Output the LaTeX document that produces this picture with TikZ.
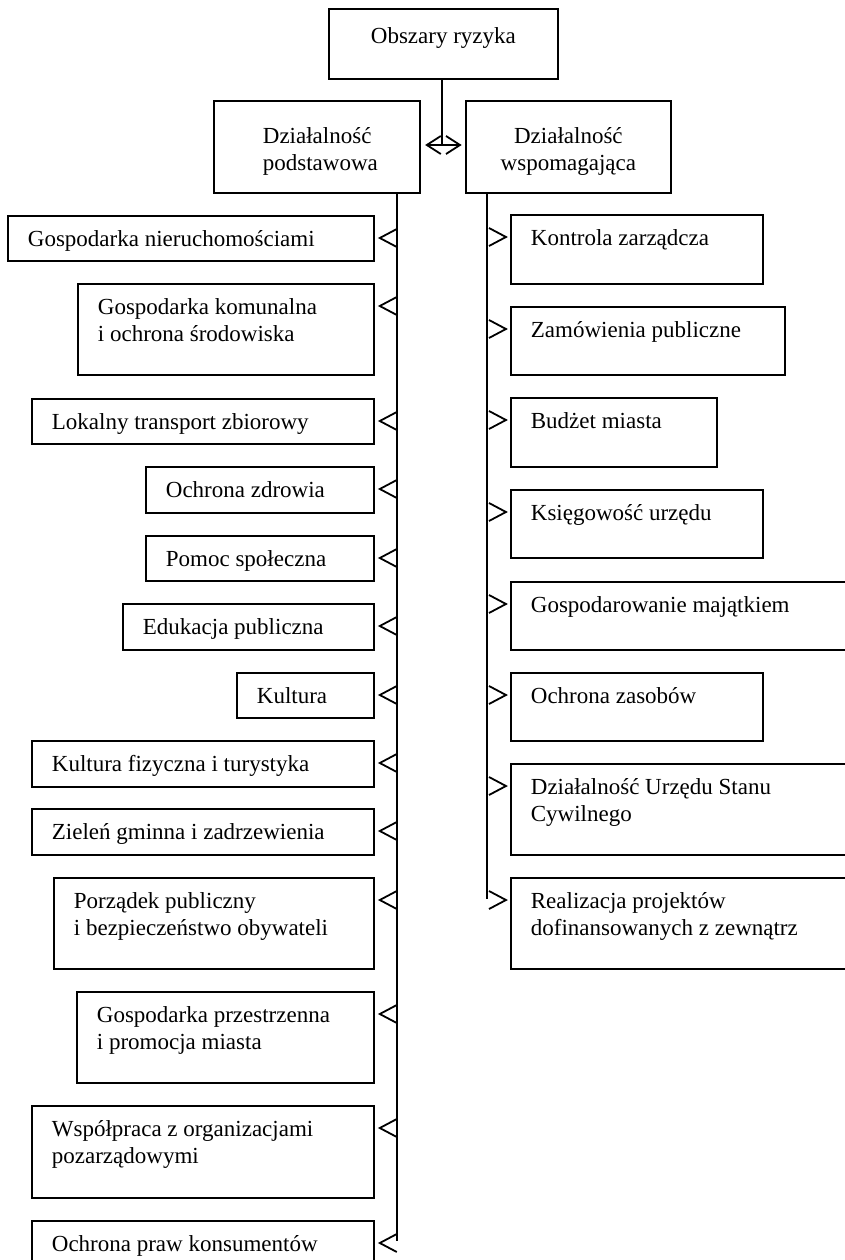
\documentclass[tikz,border=0pt]{standalone}
\usepackage{fontspec}
\setmainfont{Liberation Serif}
\newcommand\mybox[6]{%
  \node[box, anchor=north west] (#1) at (#2,#3)
    {\parbox[c][#5pt][t]{#4pt}{\raggedright\leftskip=20pt\rule{0pt}{31pt}#6}};}
\newcommand\LArrowTo[1]{\draw[arr] ([xshift=22pt,yshift=-14pt]#1.north east) -- ([xshift=5pt,yshift=-23pt]#1.north east) -- ([xshift=22pt,yshift=-32pt]#1.north east);}
\newcommand\RArrowTo[1]{\draw[arr] ([xshift=-21pt,yshift=-14pt]#1.north west) -- ([xshift=-4pt,yshift=-23pt]#1.north west) -- ([xshift=-21pt,yshift=-32pt]#1.north west);}
\begin{document}
\begin{tikzpicture}[x=1pt,y=-1pt,
  every node/.style={font=\fontsize{23}{27}\selectfont},
  box/.style={draw, rectangle, line width=1.8pt, inner sep=0pt},
  conn/.style={line width=1.8pt},
  arr/.style={line width=1.8pt, line join=miter}]
\useasboundingbox (0,0) rectangle (845,1260);
\fill[white] (0,0) rectangle (845,1260);
\clip (0,0) rectangle (845,1260);
% top
\node[box, anchor=north west] (obs) at (328,8)
  {\parbox[c][70pt][t]{229pt}{\centering\rule{0pt}{35pt}Obszary ryzyka}};
\node[box, anchor=north west] (podst) at (213,100)
  {\parbox[c][92pt][t]{206pt}{\raggedright\leftskip=49pt\rule{0pt}{43pt}Działalność\\podstawowa}};
\node[box, anchor=north west] (wsp) at (465,100)
  {\parbox[c][92pt][t]{205pt}{\centering\rule{0pt}{43pt}Działalność\\wspomagająca}};
\coordinate (hub) at (442,145);
\coordinate (hubL) at ([xshift=6pt]podst.east |- hub);
\coordinate (hubR) at ([xshift=-5pt]wsp.west |- hub);
\draw[conn] (obs.south -| hub) -- (hub);
\draw[conn] (hubL) -- (hubR);
\draw[arr] ([xshift=14pt,yshift=9pt]hubL) -- (hubL) -- ([xshift=14pt,yshift=-9pt]hubL);
\draw[arr] ([xshift=-14pt,yshift=9pt]hubR) -- (hubR) -- ([xshift=-14pt,yshift=-9pt]hubR);
% left column
\mybox{gn}{7}{215}{366}{45}{Gospodarka nieruchomościami}
\mybox{gk}{77}{283}{296}{91}{Gospodarka komunalna\\i ochrona środowiska}
\mybox{lt}{31}{398}{342}{45}{Lokalny transport zbiorowy}
\mybox{oz}{145}{466}{228}{46}{Ochrona zdrowia}
\mybox{ps}{145}{535}{228}{45}{Pomoc społeczna}
\mybox{ep}{122}{603}{251}{46}{Edukacja publiczna}
\mybox{ku}{236}{672}{137}{45}{Kultura}
\mybox{kf}{31}{740}{342}{46}{Kultura fizyczna i turystyka}
\mybox{zg}{31}{808}{342}{46}{Zieleń gminna i zadrzewienia}
\mybox{pp}{53}{877}{320}{91}{Porządek publiczny\\i bezpieczeństwo obywateli}
\mybox{gp}{76}{991}{297}{91}{Gospodarka przestrzenna\\i promocja miasta}
\mybox{wo}{31}{1105}{342}{92}{Współpraca z organizacjami\\pozarządowymi}
\mybox{op}{31}{1220}{342}{60}{Ochrona praw konsumentów}
% right column
\mybox{kz}{510}{214}{252}{69}{Kontrola zarządcza}
\mybox{zp}{510}{306}{274}{68}{Zamówienia publiczne}
\mybox{bm}{510}{397}{206}{69}{Budżet miasta}
\mybox{ku2}{510}{489}{252}{68}{Księgowość urzędu}
\mybox{gm}{510}{581}{350}{68}{Gospodarowanie majątkiem}
\mybox{oz2}{510}{672}{252}{68}{Ochrona zasobów}
\mybox{usc}{510}{763}{350}{91}{Działalność Urzędu Stanu\\Cywilnego}
\mybox{rp}{510}{877}{350}{91}{Realizacja projektów\\dofinansowanych z zewnątrz}
% trunk lines
\coordinate (Lend) at (397,1241);
\coordinate (Rend) at (487,899);
\draw[conn] (podst.south -| Lend) -- (Lend);
\draw[conn] (wsp.south -| Rend) -- (Rend);
% arrows
\foreach \n in {gn,gk,lt,oz,ps,ep,ku,kf,zg,pp,gp,wo,op}{\LArrowTo{\n}}
\foreach \n in {kz,zp,bm,ku2,gm,oz2,usc,rp}{\RArrowTo{\n}}
\end{tikzpicture}
\end{document}
